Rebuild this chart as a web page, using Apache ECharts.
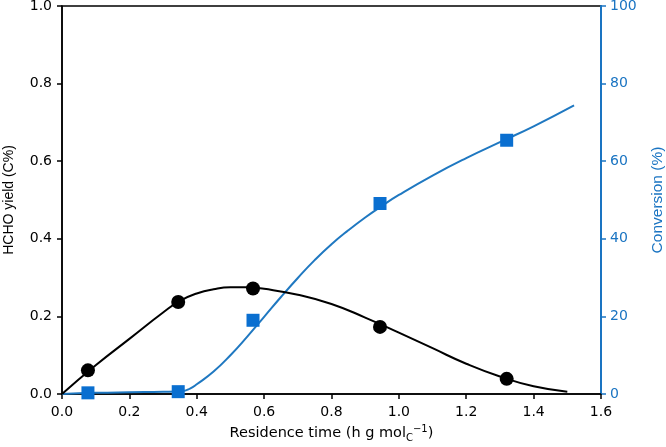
<!DOCTYPE html>
<html>
<head>
<meta charset="utf-8">
<script src="https://cdn.jsdelivr.net/npm/echarts@6/dist/echarts.min.js"></script>
<style>html,body{margin:0;padding:0;background:#fff}#c{width:666px;height:447px}</style>
</head>
<body>
<div id="c"></div>
<script>
// Measured points
const measX = [0.077, 0.345, 0.567, 0.944, 1.32];
const yieldVals = [0.061, 0.237, 0.272, 0.173, 0.039];
const convVals = [0.3, 0.6, 19.0, 49.1, 65.4];
// Fitted curves
const yieldCurveX = [0, 0.1, 0.2, 0.3, 0.35, 0.4, 0.45, 0.5, 0.55, 0.6, 0.7, 0.8, 0.9, 1.0, 1.1, 1.2, 1.3, 1.4, 1.5];
const yieldCurveY = [0, 0.074, 0.142, 0.21, 0.24, 0.259, 0.27, 0.275, 0.275, 0.271, 0.256, 0.232, 0.197, 0.158, 0.118, 0.078, 0.045, 0.02, 0.006];
const convCurveX = [0, 0.1, 0.2, 0.3, 0.36, 0.38, 0.4, 0.45, 0.5, 0.55, 0.6, 0.65, 0.7, 0.75, 0.8, 0.85, 0.9, 0.95, 1.0, 1.1, 1.2, 1.3, 1.4, 1.52];
const convCurveY = [0, 0.3, 0.45, 0.55, 0.8, 1.4, 2.5, 5.8, 10.0, 14.8, 19.9, 25.0, 29.9, 34.5, 38.6, 42.2, 45.5, 48.5, 51.3, 56.3, 60.8, 64.9, 69.0, 74.4];

const BLUE_LINE = '#1f78c1';
const BLUE_MARK = '#0a6fd0';
const BLUE_TEXT = '#1a74c2';
const FONT_H = 'DejaVu Sans, sans-serif';
const FONT_V = 'Liberation Sans, Arial, sans-serif';

const zip = (a, b) => a.map((v, i) => [v, b[i]]);

const chart = echarts.init(document.getElementById('c'), null, {renderer: 'canvas'});
chart.setOption({
  animation: false,
  backgroundColor: '#fff',
  textStyle: {fontFamily: FONT_H},
  grid: {left: 62, right: 65, top: 6, bottom: 53, outerBoundsMode: 'none', containLabel: false,
         show: true, borderColor: '#000', borderWidth: 1.5, backgroundColor: 'transparent'},
  xAxis: {
    type: 'value', min: 0, max: 1.6, interval: 0.2,
    name: '{a|Residence time (h g mol}{sub|C}{sup|−1}{a|)}',
    nameLocation: 'middle', nameGap: 30,
    nameTextStyle: {
      rich: {
        a: {fontSize: 14.5, color: '#000', fontFamily: FONT_H},
        sub: {fontSize: 10, color: '#000', fontFamily: FONT_H, padding: [9, 0, 0, 0]},
        sup: {fontSize: 10, color: '#000', fontFamily: FONT_H, padding: [0, 0, 8, 0]}
      }
    },
    axisLine: {show: true, onZero: false, lineStyle: {color: '#000', width: 1.5}},
    axisTick: {show: true, inside: false, length: 5, lineStyle: {color: '#000', width: 1.5}},
    axisLabel: {color: '#000', fontSize: 14, fontFamily: FONT_H, margin: 11, formatter: v => v.toFixed(1)},
    splitLine: {show: false}
  },
  yAxis: [
    {
      type: 'value', min: 0, max: 1.0, interval: 0.2, position: 'left',
      name: 'HCHO yield (C%)', nameLocation: 'middle', nameGap: 46,
      nameTextStyle: {fontSize: 14, color: '#000', fontFamily: FONT_V},
      axisLine: {show: true, onZero: false, lineStyle: {color: '#000', width: 1.5}},
      axisTick: {show: true, length: 5, lineStyle: {color: '#000', width: 1.5}},
      axisLabel: {color: '#000', fontSize: 14, fontFamily: FONT_H, margin: 10, formatter: v => v.toFixed(1)},
      splitLine: {show: false}
    },
    {
      type: 'value', min: 0, max: 100, interval: 20, position: 'right',
      name: 'Conversion (%)', nameLocation: 'middle', nameGap: 49,
      nameTextStyle: {fontSize: 15.5, color: BLUE_TEXT, fontFamily: FONT_V},
      axisLine: {show: true, onZero: false, lineStyle: {color: BLUE_TEXT, width: 2}},
      axisTick: {show: true, length: 5, lineStyle: {color: BLUE_TEXT, width: 1.5}},
      axisLabel: {color: BLUE_TEXT, fontSize: 14, fontFamily: FONT_H, margin: 9},
      splitLine: {show: false}
    }
  ],
  series: [
    {
      type: 'line', yAxisIndex: 1, data: zip(convCurveX, convCurveY),
      smooth: 0.5, showSymbol: false, symbol: 'none',
      lineStyle: {color: BLUE_LINE, width: 2}, z: 2
    },
    {
      type: 'line', yAxisIndex: 0, data: zip(yieldCurveX, yieldCurveY),
      smooth: 0.5, showSymbol: false, symbol: 'none',
      lineStyle: {color: '#000', width: 2}, z: 2
    },
    {
      type: 'scatter', yAxisIndex: 1, data: zip(measX, convVals),
      symbol: 'rect', symbolSize: 13, clip: false,
      itemStyle: {color: BLUE_MARK, opacity: 1}, z: 4
    },
    {
      type: 'scatter', yAxisIndex: 0, data: zip(measX, yieldVals),
      symbol: 'circle', symbolSize: 14, clip: false,
      itemStyle: {color: '#000', opacity: 1}, z: 4
    }
  ]
});
</script>
</body>
</html>
